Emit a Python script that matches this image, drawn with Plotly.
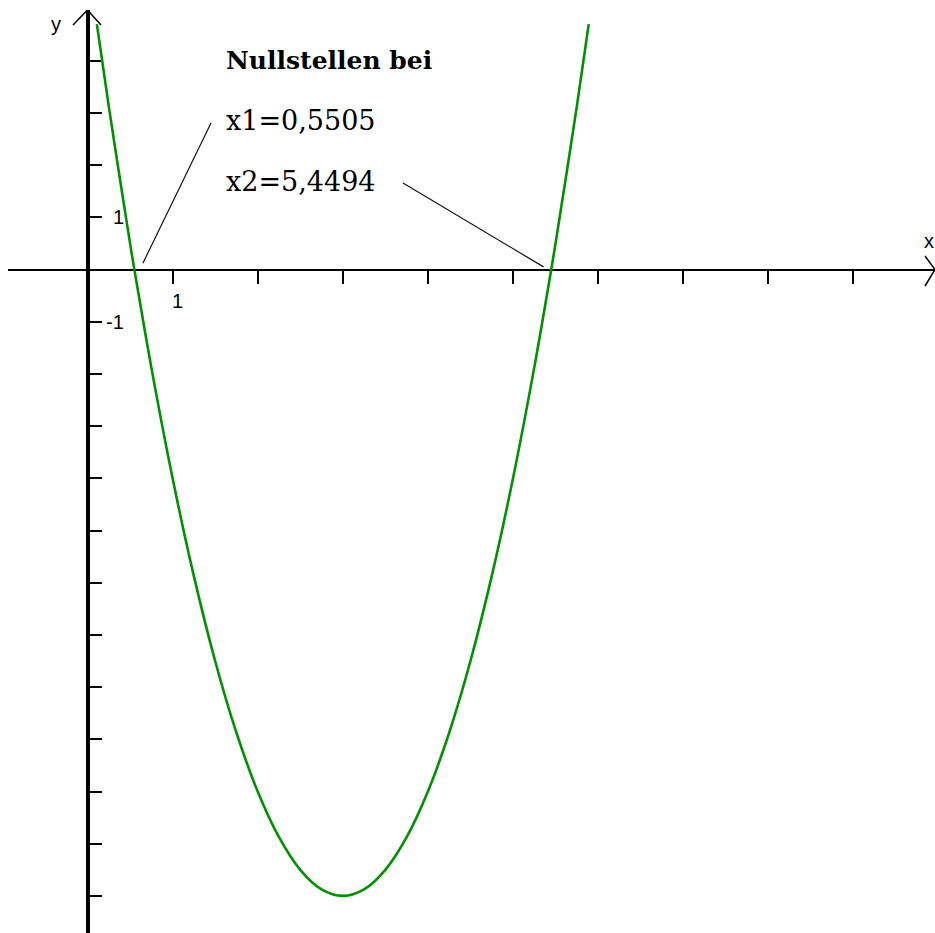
import plotly.graph_objects as go

# --- data -------------------------------------------------------------
# zeros of the parabola (shown in the labels)
X1 = 0.5505
X2 = 5.4494

# sampled points of the parabola
CURVE_X = [0.11, 0.25, 0.5, X1, 0.75, 1.0, 1.25, 1.5, 1.75, 2.0, 2.25, 2.5, 2.75,
           3.0, 3.25, 3.5, 3.75, 4.0, 4.25, 4.5, 4.75, 5.0, 5.25, X2, 5.5, 5.75, 5.89]
CURVE_Y = [4.70, 3.125, 0.5, 0.0, -1.875, -4.0, -5.875, -7.5, -8.875, -10.0, -10.875,
           -11.5, -11.875, -12.0, -11.875, -11.5, -10.875, -10.0, -8.875, -7.5, -5.875,
           -4.0, -1.875, 0.0, 0.5, 3.125, 4.70]

X_TICKS = [1, 2, 3, 4, 5, 6, 7, 8, 9]
Y_TICKS = [4, 3, 2, 1, -1, -2, -3, -4, -5, -6, -7, -8, -9, -10, -11, -12]

TITLE = "Nullstellen bei"

# --- geometry of the coordinate system ---------------------------------
W, H = 935, 933
OX, OY = 87.5, 269.5      # pixel position of the origin
UX, UY = 85.1, 52.2       # pixels per unit


def gx(px):
    return (px - OX) / UX


def gy(py):
    return (OY - py) / UY


fig = go.Figure()

fig.add_trace(go.Scatter(
    x=CURVE_X, y=CURVE_Y, mode="lines",
    line=dict(color="rgb(0,145,0)", width=2.6, shape="spline", smoothing=1.0),
    hoverinfo="skip", showlegend=False,
))

fig.update_layout(
    width=W, height=H,
    margin=dict(l=0, r=0, t=0, b=0),
    paper_bgcolor="white", plot_bgcolor="white",
    showlegend=False,
    xaxis=dict(
        domain=[8 / W, 1.0], range=[gx(8), gx(W)],
        anchor="free", position=1 - OY / H,
        showline=True, linecolor="black", linewidth=2,
        ticks="outside", ticklen=13, tickwidth=2, tickcolor="black",
        tickvals=X_TICKS, showticklabels=False,
        showgrid=False, zeroline=False, layer="below traces",
    ),
    yaxis=dict(
        domain=[0, 1 - 10 / H], range=[gy(H), gy(10)],
        anchor="free", position=OX / W,
        showline=True, linecolor="black", linewidth=3.5,
        ticks="inside", ticklen=13, tickwidth=2, tickcolor="black",
        tickvals=Y_TICKS, showticklabels=False,
        showgrid=False, zeroline=False, layer="below traces",
    ),
)

# arrow heads of the axes
fig.add_shape(type="path", xref="x", yref="y",
              path=f"M {gx(73)},{gy(25)} L {gx(OX)},{gy(10)} L {gx(101)},{gy(25)}",
              line=dict(color="black", width=1.5))
fig.add_shape(type="path", xref="x", yref="y",
              path=f"M {gx(925)},{gy(256)} L {gx(935)},{gy(OY)} L {gx(925)},{gy(286)}",
              line=dict(color="black", width=1.5))

# leader lines from the text to the zeros
fig.add_shape(type="line", xref="x", yref="y",
              x0=X1 + 0.1, y0=0.12, x1=gx(211), y1=gy(123),
              line=dict(color="#111", width=1.2))
fig.add_shape(type="line", xref="x", yref="y",
              x0=gx(403), y0=gy(183), x1=X2 - 0.09, y1=0.05,
              line=dict(color="#111", width=1.2))

serif = "DejaVu Serif"
sans = "Liberation Sans"


def note(x, y, text, size, family, xanchor="left", weight="normal"):
    fig.add_annotation(x=x, y=y, xref="x", yref="y", text=text, showarrow=False,
                       xanchor=xanchor, yanchor="middle",
                       font=dict(family=family, size=size, color="black", weight=weight))


note(gx(224), gy(61), TITLE, 25, serif, weight="bold")
note(gx(224), gy(121), f"x1={X1:.4f}".replace(".", ","), 27, serif)
note(gx(224), gy(182), f"x2={X2:.4f}".replace(".", ","), 27, serif)

# axis names and unit labels
note(gx(56), gy(24), "y", 20, sans, xanchor="center")
note(gx(929), gy(241), "x", 20, sans, xanchor="center")
note(1 + gx(177) - 1, gy(301), "1", 20, sans, xanchor="center")
note(gx(111), 1, "1", 20, sans)
note(gx(104), -1, "-1", 20, sans)

fig.write_html("out.html")
